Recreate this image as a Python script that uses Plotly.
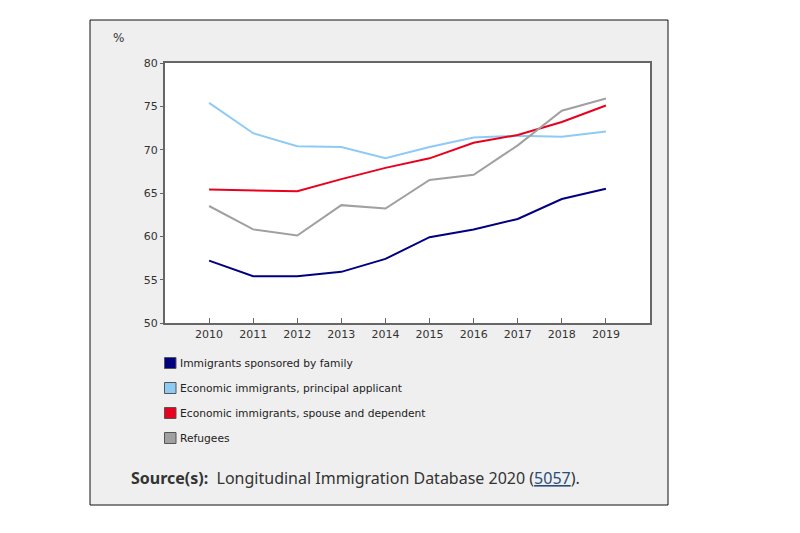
import plotly.graph_objects as go

years = [2010, 2011, 2012, 2013, 2014, 2015, 2016, 2017, 2018, 2019]
family = [57.2, 55.4, 55.4, 55.9, 57.4, 59.9, 60.8, 62.0, 64.3, 65.5]
econ_principal = [75.4, 71.9, 70.4, 70.3, 69.0, 70.3, 71.4, 71.6, 71.5, 72.1]
econ_spouse = [65.4, 65.3, 65.2, 66.6, 67.9, 69.0, 70.8, 71.7, 73.2, 75.1]
refugees = [63.5, 60.8, 60.1, 63.6, 63.2, 66.5, 67.1, 70.5, 74.5, 75.9]

series_names = [
    "Immigrants sponsored by family",
    "Economic immigrants, principal applicant",
    "Economic immigrants, spouse and dependent",
    "Refugees",
]
series_values = [family, econ_principal, econ_spouse, refugees]
series_colors = ["#000080", "#8DCBF5", "#E8001E", "#A0A0A0"]

y_ticks = [50, 55, 60, 65, 70, 75, 80]

OFF = 8  # page body margin
W, H = 800 - OFF, 533 - OFF
# target page pixel positions of plot area
PL, PR, PT, PB = 165, 650, 63, 323
L, T = PL - OFF, PT - OFF
R, B = W - (PR - OFF), H - (PB - OFF)
pw, ph = PR - PL, PB - PT


def px(x):
    return (x - PL) / pw


def py(y):
    return (PB - y) / ph


fig = go.Figure()
for name, vals, col in zip(series_names, series_values, series_colors):
    fig.add_trace(go.Scatter(x=years, y=vals, name=name, mode="lines",
                             line=dict(color=col, width=2), showlegend=False))

shapes = [
    dict(type="rect", xref="paper", yref="paper", x0=px(90), x1=px(668),
         y0=py(505), y1=py(20), fillcolor="#EFEFEF",
         line=dict(color="#111111", width=1), layer="below"),
    dict(type="rect", xref="paper", yref="paper", x0=0, x1=1, y0=0, y1=1,
         fillcolor="white", line=dict(width=0), layer="below"),
]
annotations = [
    dict(text="%", xref="paper", yref="paper", x=px(111), y=py(38),
         xanchor="left", yanchor="middle", showarrow=False,
         font=dict(family="DejaVu Sans", size=12, color="#333333")),
]
for i, (name, col) in enumerate(zip(series_names, series_colors)):
    yc = 363 + 25 * i
    shapes.append(dict(type="rect", xref="paper", yref="paper",
                       x0=px(164.5), x1=px(176), y0=py(yc + 5.5), y1=py(yc - 5.5),
                       fillcolor=col, line=dict(color="#555555", width=1)))
    annotations.append(dict(text=name, xref="paper", yref="paper",
                            x=px(178), y=py(yc), xanchor="left", yanchor="middle",
                            showarrow=False,
                            font=dict(family="DejaVu Sans", size=10.7, color="#222222")))

annotations.append(dict(
    text="<b>Source(s):</b>&nbsp;&nbsp;Longitudinal Immigration Database 2020 ("
         "<span style='color:#2A4E7A;text-decoration:underline'>5057</span>).",
    xref="paper", yref="paper", x=px(129), y=py(478), xanchor="left",
    yanchor="middle", showarrow=False,
    font=dict(family="Noto Sans", size=16, color="#333333")))

fig.update_layout(
    width=W, height=H,
    margin=dict(l=L, r=R, t=T, b=B, pad=0),
    paper_bgcolor="white", plot_bgcolor="white",
    shapes=shapes, annotations=annotations,
    xaxis=dict(range=[2009, 2020], tickvals=years, ticktext=[str(y) for y in years],
               ticks="inside", ticklen=5, tickcolor="#666666", tickwidth=1,
               showgrid=False, zeroline=False, showline=True, linecolor="#666666",
               linewidth=2, mirror=True,
               tickfont=dict(family="DejaVu Sans", size=11, color="#333333")),
    yaxis=dict(range=[50, 80], tickvals=y_ticks, ticks="outside", ticklen=3,
               tickcolor="#666666", showgrid=False, zeroline=False, showline=True,
               linecolor="#666666", linewidth=2, mirror=True,
               tickfont=dict(family="DejaVu Sans", size=11, color="#333333")),
)

fig.write_html("out.html")
